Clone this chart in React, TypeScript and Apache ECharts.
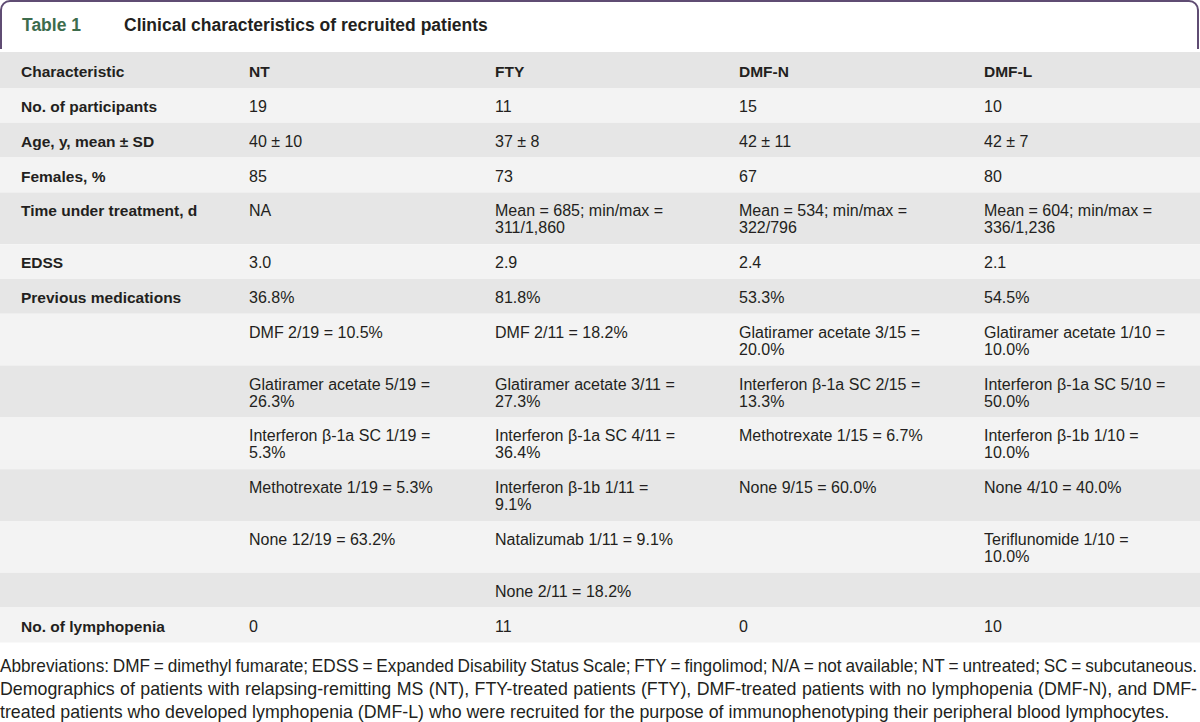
import React, { useEffect, useRef } from "react";
import * as echarts from "echarts";

const titleLabel = "Table 1";
const titleText = "Clinical characteristics of recruited patients";
const columnHeaders = ["Characteristic", "NT", "FTY", "DMF-N", "DMF-L"];

const rowLabels = [
  "No. of participants",
  "Age, y, mean ± SD",
  "Females, %",
  "Time under treatment, d",
  "EDSS",
  "Previous medications",
  "",
  "",
  "",
  "",
  "",
  "",
  "No. of lymphopenia",
];

const ntValues = [
  "19",
  "40 ± 10",
  "85",
  "NA",
  "3.0",
  "36.8%",
  "DMF 2/19 = 10.5%",
  "Glatiramer acetate 5/19 =\n26.3%",
  "Interferon β-1a SC 1/19 =\n5.3%",
  "Methotrexate 1/19 = 5.3%",
  "None 12/19 = 63.2%",
  "",
  "0",
];

const ftyValues = [
  "11",
  "37 ± 8",
  "73",
  "Mean = 685; min/max =\n311/1,860",
  "2.9",
  "81.8%",
  "DMF 2/11 = 18.2%",
  "Glatiramer acetate 3/11 =\n27.3%",
  "Interferon β-1a SC 4/11 =\n36.4%",
  "Interferon β-1b 1/11 =\n9.1%",
  "Natalizumab 1/11 = 9.1%",
  "None 2/11 = 18.2%",
  "11",
];

const dmfNValues = [
  "15",
  "42 ± 11",
  "67",
  "Mean = 534; min/max =\n322/796",
  "2.4",
  "53.3%",
  "Glatiramer acetate 3/15 =\n20.0%",
  "Interferon β-1a SC 2/15 =\n13.3%",
  "Methotrexate 1/15 = 6.7%",
  "None 9/15 = 60.0%",
  "",
  "",
  "0",
];

const dmfLValues = [
  "10",
  "42 ± 7",
  "80",
  "Mean = 604; min/max =\n336/1,236",
  "2.1",
  "54.5%",
  "Glatiramer acetate 1/10 =\n10.0%",
  "Interferon β-1a SC 5/10 =\n50.0%",
  "Interferon β-1b 1/10 =\n10.0%",
  "None 4/10 = 40.0%",
  "Teriflunomide 1/10 =\n10.0%",
  "",
  "10",
];

const footnoteLines = [
  "Abbreviations: DMF = dimethyl fumarate; EDSS = Expanded Disability Status Scale; FTY = fingolimod; N/A = not available; NT = untreated; SC = subcutaneous.",
  "Demographics of patients with relapsing-remitting MS (NT), FTY-treated patients (FTY), DMF-treated patients with no lymphopenia (DMF-N), and DMF-",
  "treated patients who developed lymphopenia (DMF-L) who were recruited for the purpose of immunophenotyping their peripheral blood lymphocytes.",
];

const FONT_FAMILY = '"Liberation Sans", Arial, sans-serif';
const TEXT_COLOR = "#231f20";

export default function App() {
  const ref = useRef<HTMLDivElement>(null);

  useEffect(() => {
    document.body.style.margin = "0";
    const chart = echarts.init(ref.current!, null, { renderer: "svg" });

    const colX = [21, 249, 495, 739, 984];
    const columns = [rowLabels, ntValues, ftyValues, dmfNValues, dmfLValues];
    const elements: any[] = [];

    // Title box with rounded top corners
    elements.push({
      type: "rect",
      shape: { x: 1, y: 1, width: 1197, height: 70, r: [9, 9, 0, 0] },
      style: { fill: "#ffffff", stroke: "#5f4c73", lineWidth: 2 },
    });
    elements.push({
      type: "rect",
      shape: { x: 0, y: 49, width: 1200, height: 30 },
      style: { fill: "#ffffff" },
    });
    elements.push({
      type: "text",
      x: 22,
      y: 25,
      style: {
        text: titleLabel,
        fontFamily: FONT_FAMILY,
        fontSize: 17.5,
        fontWeight: "bold",
        fill: "#3d6c4d",
        verticalAlign: "middle",
        align: "left",
      },
    });
    elements.push({
      type: "text",
      x: 124,
      y: 25,
      style: {
        text: titleText,
        fontFamily: FONT_FAMILY,
        fontSize: 17.5,
        fontWeight: "bold",
        fill: TEXT_COLOR,
        verticalAlign: "middle",
        align: "left",
      },
    });

    // Header band
    const headerTop = 52;
    const headerH = 36;
    elements.push({
      type: "rect",
      shape: { x: 0, y: headerTop, width: 1200, height: headerH },
      style: { fill: "#e5e5e5" },
    });
    columnHeaders.forEach((h, i) => {
      elements.push({
        type: "text",
        x: colX[i],
        y: headerTop + 19,
        style: {
          text: h,
          fontFamily: FONT_FAMILY,
          fontSize: 15.5,
          fontWeight: "bold",
          fill: TEXT_COLOR,
          verticalAlign: "middle",
          align: "left",
        },
      });
    });

    // Body rows
    let top = headerTop + headerH;
    const lineH = 17;
    for (let r = 0; r < rowLabels.length; r++) {
      let maxLines = 1;
      columns.forEach((col) => {
        const n = col[r] ? col[r].split("\n").length : 1;
        if (n > maxLines) maxLines = n;
      });
      const h = 34.8 + lineH * (maxLines - 1);
      elements.push({
        type: "rect",
        shape: { x: 0, y: top, width: 1200, height: h },
        style: { fill: r % 2 === 0 ? "#f3f3f3" : "#e6e6e6" },
      });
      columns.forEach((col, c) => {
        if (!col[r]) return;
        elements.push({
          type: "text",
          x: colX[c],
          y: top + 10,
          style: {
            text: col[r],
            fontFamily: FONT_FAMILY,
            fontSize: c === 0 ? 15.5 : 16,
            fontWeight: c === 0 ? "bold" : "normal",
            fill: TEXT_COLOR,
            lineHeight: lineH,
            verticalAlign: "top",
            align: "left",
          },
        });
      });
      top += h;
    }

    // Footnote (first two lines justified / fitted to the full width)
    const footSize = 17.8;
    const canvas = document.createElement("canvas");
    const ctx = canvas.getContext("2d")!;
    ctx.font = `${footSize}px ${FONT_FAMILY}`;
    const spaceW = ctx.measureText(" ").width;
    const footY = [666, 689, 712];
    const rightEdge = 1197;
    footnoteLines.forEach((line, li) => {
      if (li < 2) {
        const words = line.split(" ");
        const widths = words.map((w) => ctx.measureText(w).width);
        const total = widths.reduce((a, b) => a + b, 0);
        const gaps = words.length - 1;
        let scale = 1;
        let gap = (rightEdge - total) / gaps;
        const minGap = spaceW * 0.8;
        if (gap < minGap) {
          scale = rightEdge / (total + minGap * gaps);
          gap = minGap * scale;
        }
        let x = 0;
        words.forEach((w, wi) => {
          elements.push({
            type: "text",
            x,
            y: footY[li],
            scaleX: scale,
            style: {
              text: w,
              fontFamily: FONT_FAMILY,
              fontSize: footSize,
              fill: TEXT_COLOR,
              verticalAlign: "middle",
              align: "left",
            },
          });
          x += widths[wi] * scale + gap;
        });
      } else {
        elements.push({
          type: "text",
          x: 0,
          y: footY[li],
          style: {
            text: line,
            fontFamily: FONT_FAMILY,
            fontSize: footSize,
            fill: TEXT_COLOR,
            verticalAlign: "middle",
            align: "left",
          },
        });
      }
    });

    chart.setOption({
      animation: false,
      graphic: { elements },
    });

    return () => chart.dispose();
  }, []);

  return <div ref={ref} style={{ width: 1200, height: 722 }} />;
}
